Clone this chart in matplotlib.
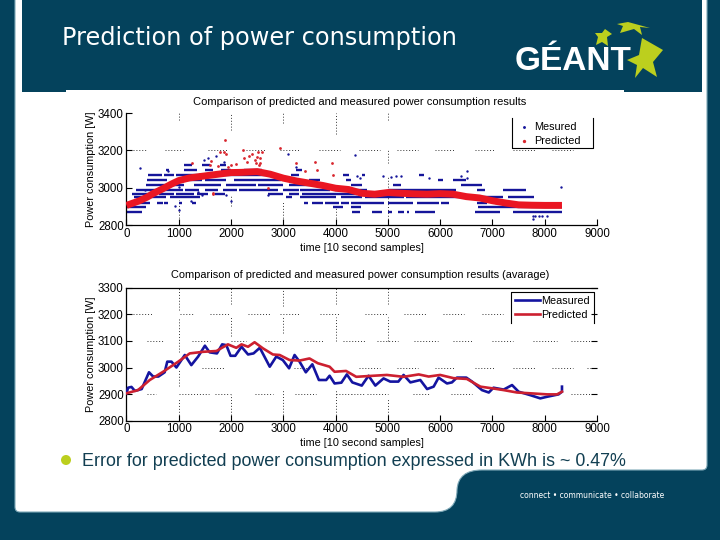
import matplotlib
matplotlib.use('Agg')
import matplotlib.pyplot as plt
from matplotlib.path import Path
from matplotlib.patches import PathPatch, Polygon, Circle, Rectangle

plt.rcParams['font.family'] = ['Liberation Sans', 'DejaVu Sans']

DARK = '#04425c'
LIME = '#bccf1e'
BLUE = '#15159a'
RED = '#ea1622'
GRID = dict(color='k', lw=0.7, linestyles=(0, (1, 2)), alpha=0.8, zorder=1)

# upper chart: measured samples sit on discrete levels, kept as (start, end) runs
meas_levels = [2872, 2898, 2920, 2949, 2968, 2988, 3015, 3042, 3069, 3096, 3122]
meas_runs = [
    [(0, 290), (4310, 4470), (4690, 4880), (5000, 5080), (5200, 5300), (5360, 5400), (5520, 5900), (6670, 7150), (7400, 8330)],
    [(0, 380), (3950, 4150), (4300, 4480), (6730, 8330)],
    [(0, 450), (580, 700), (720, 800), (1000, 1060), (1250, 1320), (3400, 3480), (3540, 3760), (3800, 4060), (4100, 4260),
     (4300, 4920), (5000, 5480), (5560, 5980), (6020, 6170), (6700, 6900), (7050, 7400)],
    [(150, 420), (450, 760), (830, 1400), (3050, 3160), (3310, 4010), (4100, 4500), (4560, 5300), (5340, 6400), (6700, 7200), (7300, 7800)],
    [(100, 560), (620, 900), (940, 1290), (1350, 1560), (1700, 1880), (2700, 3000), (3100, 3300), (3350, 4400)],
    [(190, 580), (600, 1080), (1120, 1380), (1500, 1750), (1850, 2120), (2150, 2900), (3000, 3300), (3320, 3900), (3980, 4600), (5000, 6300), (6700, 6850), (7200, 7650)],
    [(380, 760), (800, 1100), (1300, 1800), (1900, 2480), (2520, 3000), (3100, 3600), (4300, 4500), (5100, 5250), (6400, 6800)],
    [(400, 780), (1000, 1450), (1500, 1900), (2050, 2950), (3500, 3700), (4200, 4300), (5950, 6050), (6250, 6500)],
    [(420, 680), (720, 900), (940, 1500), (1540, 2850), (3150, 3300), (4150, 4250), (4500, 4560), (5600, 5700)],
    [(750, 820), (1100, 1350), (1500, 1650), (1800, 2000), (2250, 2600), (3250, 3350)],
    [(1100, 1250), (1450, 1600), (1780, 1900)],
]
meas_dots_x = [250, 800, 1000, 1000, 1900, 2000, 3080, 4380, 4400, 4470, 4900, 5060, 5150, 5250, 5780, 6400, 6520, 6520,
               7770, 7770, 7820, 7900, 7950, 8050, 8320, 1560, 1490, 1720, 1870, 3250, 2700, 930, 350, 1230, 1360, 1450]
meas_dots_y = [3105, 3090, 2880, 3005, 2960, 2930, 3180, 3175, 3065, 3050, 3060, 3055, 3060, 3060, 3050, 3060, 3090, 3050,
               2850, 2830, 2850, 2850, 2850, 2850, 3005, 3160, 3150, 3170, 3140, 3110, 2960, 2900, 2985, 2930, 2975, 2960]

pred_dots_x = [1260, 1400, 1600, 1790, 1860, 1890, 1900, 2000, 2230, 2300, 2340, 2400, 2470, 2520, 2560, 2590, 2650, 2930,
               3240, 3600, 3650, 3930, 3950, 1650, 2240, 2560, 2700, 1650, 1610, 3410, 2450, 2500, 2530, 1750, 1950, 2100]
pred_dots_y = [3130, 3075, 3120, 3190, 3190, 3255, 3180, 3120, 3200, 3140, 3170, 3180, 3130, 3190, 3130, 3190, 3085, 3210,
               3130, 3135, 3095, 3130, 3070, 2965, 3160, 3160, 3000, 2970, 3145, 3090, 3150, 3165, 3120, 3115, 3110, 3125]
pred_x = [0, 100, 250, 400, 500, 700, 850, 1000, 1200, 1500, 1750, 2000, 2200, 2500, 2750, 3000, 3250, 3500, 3750, 4000,
          4250, 4500, 4750, 5000, 5250, 5500, 5750, 6000, 6250, 6500, 6750, 7000, 7250, 7500, 7750, 8000, 8330]
pred_y = [2905, 2915, 2930, 2950, 2967, 2995, 3018, 3038, 3052, 3063, 3072, 3081, 3082, 3086, 3072, 3051, 3036, 3024,
          3012, 2997, 2990, 2970, 2965, 2974, 2970, 2967, 2965, 2968, 2965, 2952, 2945, 2930, 2918, 2908, 2906, 2905, 2905]

# lower chart: averaged series
avg_meas_x = [0, 30, 95, 160, 290, 430, 510, 610, 730, 780, 860, 955, 1115, 1240, 1370, 1500, 1590, 1730, 1830, 1910,
              1990, 2080, 2200, 2325, 2430, 2550, 2740, 2865, 2990, 3110, 3215, 3310, 3430, 3555, 3680, 3820, 3885, 3980,
              4110, 4215, 4320, 4500, 4630, 4760, 4917, 5045, 5200, 5300, 5430, 5620, 5750, 5875, 5970, 6130, 6225, 6320,
              6500, 6610, 6800, 6930, 7020, 7215, 7375, 7500, 7725, 7915, 8045, 8265, 8330, 8330]
avg_meas_y = [2903, 2924, 2927, 2912, 2919, 2982, 2966, 2966, 2982, 3022, 3022, 3000, 3047, 3009, 3041, 3082, 3057, 3053,
              3087, 3084, 3044, 3044, 3078, 3049, 3053, 3074, 3003, 3041, 3028, 2997, 3047, 3022, 2982, 3012, 2953, 2953,
              2969, 2940, 2943, 2974, 2944, 2932, 2969, 2932, 2959, 2947, 2947, 2972, 2944, 2953, 2919, 2928, 2962, 2940,
              2944, 2962, 2962, 2947, 2915, 2906, 2924, 2917, 2934, 2909, 2896, 2884, 2890, 2899, 2909, 2928]
avg_pred_x = [0, 220, 445, 700, 990, 1210, 1465, 1720, 1940, 2100, 2200, 2325, 2450, 2610, 2800, 2930, 3120, 3310, 3500,
              3660, 3885, 3980, 4200, 4395, 4725, 4980, 5300, 5590, 5780, 6000, 6255, 6510, 6770, 7020, 7215, 7470, 7725,
              8045, 8235, 8330]
avg_pred_y = [2903, 2915, 2953, 2984, 3022, 3053, 3059, 3062, 3087, 3074, 3087, 3078, 3095, 3072, 3049, 3047, 3028, 3026,
              3034, 3016, 3003, 2984, 2987, 2965, 2969, 2972, 2965, 2974, 2966, 2972, 2960, 2957, 2928, 2921, 2915, 2906,
              2903, 2899, 2899, 2909]

xticks = [0, 1000, 2000, 3000, 4000, 5000, 6000, 7000, 8000, 9000]
top_yticks = [2800, 3000, 3200, 3400]
bot_yticks = [2800, 2900, 3000, 3100, 3200, 3300]

# the dotted grids survive only in patches on the slide
top_grid_3200 = [(130, 380), (730, 1080), (1560, 1940), (2290, 2670), (2930, 3310), (3690, 4080), (4440, 4850), (5170, 5580),
                 (5900, 6280), (6670, 7050), (7400, 7820), (8140, 8550)]
top_vgrid = {1000: [(3365, 3400), (2820, 2935)], 2000: [(3310, 3400), (2900, 2960)], 3000: [(3345, 3400), (2820, 2930)],
             4000: [(3290, 3400), (2820, 2900)], 5000: [(3365, 3400), (3130, 3200), (2800, 3060)]}
bot_hgrid = {
    3200: [(130, 510), (1020, 1300), (1590, 1970), (2320, 2740), (2930, 3310), (3700, 4080), (4570, 5000), (5300, 5720), (6060, 6450), (6800, 7200)],
    3100: [(390, 710), (1250, 1600), (2000, 2290), (2650, 3060), (3390, 3780), (4150, 4560), (4800, 5200), (5500, 5950), (6240, 6630), (7000, 7400), (7780, 8230), (8500, 8950)],
    3000: [(1450, 1890), (3200, 3500), (4440, 4850), (5170, 5580), (5900, 6280), (6670, 7050), (7400, 7820), (8140, 8550), (8800, 8950)],
    2900: [(400, 560), (1000, 1580), (1700, 1980), (2450, 2800), (3220, 3620), (4000, 4300), (4300, 4550), (4600, 5000), (5480, 5800), (6200, 6600), (8500, 8900)],
}
bot_vgrid = {1000: [(3215, 3300), (3060, 3190), (2930, 2990), (2800, 2880)], 2000: [(3240, 3300), (3120, 3190), (2810, 2900)],
             3000: [(3230, 3300), (3130, 3190), (2820, 2920)], 4000: [(3240, 3300), (3100, 3190), (2810, 2920)],
             5000: [(3240, 3300), (3100, 3190), (2800, 2880)]}

fig = plt.figure(figsize=(7.2, 5.4), dpi=100, facecolor=DARK)

# slide artwork, in pixel coordinates
bg = fig.add_axes([0, 0, 1, 1], zorder=0)
bg.set_xlim(0, 720)
bg.set_ylim(540, 0)
bg.axis('off')

panel = Path(
    [(15, -5), (707, -5), (707, 465), (707, 470), (702, 470), (482, 470), (458, 470), (457, 490),
     (457, 512), (435, 512), (20, 512), (15, 512), (15, 507), (15, -5)],
    [Path.MOVETO, Path.LINETO, Path.LINETO, Path.CURVE3, Path.CURVE3, Path.LINETO, Path.CURVE3, Path.CURVE3,
     Path.CURVE3, Path.CURVE3, Path.LINETO, Path.CURVE3, Path.CURVE3, Path.CLOSEPOLY])
bg.add_patch(PathPatch(panel, fc='white', ec='#7fa9b8', lw=0.8))
bg.add_patch(Rectangle((22, -5), 680, 97, fc=DARK, ec='none'))
bg.add_patch(Rectangle((66, 90), 558, 20, fc='white', ec='none'))

bg.text(515, 61, 'GÉANT', color='white', fontsize=24, fontweight='bold', va='center', ha='left')
large_star = [(642, 38), (663, 50), (653, 62), (657, 77), (643, 68), (635, 78), (637, 65), (627, 60), (639, 55)]
small_star = [(605, 29), (612, 34), (607, 37), (608, 46), (602, 42), (596, 45), (598, 37), (595, 33), (602, 33)]
swoosh = [(617, 24), (628, 22), (650, 28), (640, 27), (642, 35), (634, 29), (620, 33), (623, 26)]
for shape in (large_star, small_star, swoosh):
    bg.add_patch(Polygon(shape, fc=LIME, ec='none', zorder=5))
bg.text(62, 37.5, 'Prediction of power consumption', color='white', fontsize=17.3, va='center', ha='left',
        family=['DejaVu Sans'])
bg.add_patch(Circle((66, 460), 5, fc=LIME, ec='none'))
bg.text(82, 461.5, 'Error for predicted power consumption expressed in KWh is ~ 0.47%', color='#123f52',
        fontsize=12.9, va='center', ha='left')
bg.text(520, 495, 'connect • communicate • collaborate', color='white', fontsize=5.5, va='center', ha='left',
        family=['DejaVu Sans'])


def make_axes(top_px, bot_px, ylim, yticks):
    ax = fig.add_axes([126.5 / 720, 1 - bot_px / 540, (597 - 126.5) / 720, (bot_px - top_px) / 540], zorder=2)
    ax.patch.set_alpha(0)
    ax.set_xlim(0, 9000)
    ax.set_ylim(*ylim)
    ax.set_xticks(xticks)
    ax.set_yticks(yticks)
    ax.tick_params(direction='in', length=4, width=0.8, labelsize=8.3, pad=2, right=False, top=False)
    ax.spines['right'].set_visible(False)
    ax.set_xlabel('time [10 second samples]', fontsize=7.8, labelpad=2)
    ax.set_ylabel('Power consumption [W]', fontsize=7.8, labelpad=1)
    for s in ax.spines.values():
        s.set_linewidth(0.9)
    return ax


# top chart
ax1 = make_axes(113, 225, (2800, 3400), top_yticks)
ax1.spines['top'].set_visible(False)
ax1.set_title('Comparison of predicted and measured power consumption results', fontsize=8, pad=6, x=0.496)
for x, segs in top_vgrid.items():
    ax1.vlines([x] * len(segs), [s[0] for s in segs], [s[1] for s in segs], **GRID)
ax1.hlines([3200] * len(top_grid_3200), [s[0] for s in top_grid_3200], [s[1] for s in top_grid_3200], **GRID)
for level, runs in zip(meas_levels, meas_runs):
    ax1.hlines([level] * len(runs), [r[0] for r in runs], [r[1] for r in runs], color=BLUE, lw=1.7, zorder=2)
ax1.scatter(meas_dots_x, meas_dots_y, s=3, color=BLUE, lw=0, zorder=2.5, label='Mesured')
ax1.scatter(pred_dots_x, pred_dots_y, s=4, color='#d8262e', lw=0, zorder=3, label='Predicted')
ax1.plot(pred_x, pred_y, color=RED, lw=5, zorder=4, solid_capstyle='butt')
ax1.legend(loc='upper left', bbox_to_anchor=(0.815, 0.985), frameon=False, fontsize=7.8, markerscale=1.2,
           labelspacing=0.35, handlelength=1.2, handletextpad=0.35, borderpad=0.2)

# bottom chart
ax2 = make_axes(287.7, 420.7, (2800, 3300), bot_yticks)
ax2.set_title('Comparison of predicted and measured power consumption results (avarage)', fontsize=7.9, pad=7, x=0.496)
ax2.tick_params(right=True, length=4)
for x, segs in bot_vgrid.items():
    ax2.vlines([x] * len(segs), [s[0] for s in segs], [s[1] for s in segs], **GRID)
for y, segs in bot_hgrid.items():
    ax2.hlines([y] * len(segs), [s[0] for s in segs], [s[1] for s in segs], **GRID)
ax2.plot(avg_meas_x, avg_meas_y, color='#1414a0', lw=1.9, zorder=3, label='Measured')
ax2.plot(avg_pred_x, avg_pred_y, color='#cc2030', lw=1.9, zorder=4, label='Predicted')
ax2.legend(loc='upper left', bbox_to_anchor=(0.81, 0.995), frameon=False, fontsize=7.8, handlelength=2.3,
           labelspacing=0.35, handletextpad=0.1, borderpad=0.2)

# legend frames, open where the slide cut them off
over = fig.add_axes([0, 0, 1, 1], zorder=1.5)
over.set_xlim(0, 720)
over.set_ylim(540, 0)
over.axis('off')
over.add_patch(Rectangle((512, 117), 81, 31, fc='white', ec='none'))
over.plot([512, 512, 593, 593], [118, 148, 148, 118], color='k', lw=0.8)
over.add_patch(Rectangle((511, 291), 83, 32, fc='white', ec='none'))
over.plot([511, 511, 594, 594], [323, 292, 292, 323], color='k', lw=0.8)

fig.savefig('out.png', dpi=100, facecolor=DARK)
